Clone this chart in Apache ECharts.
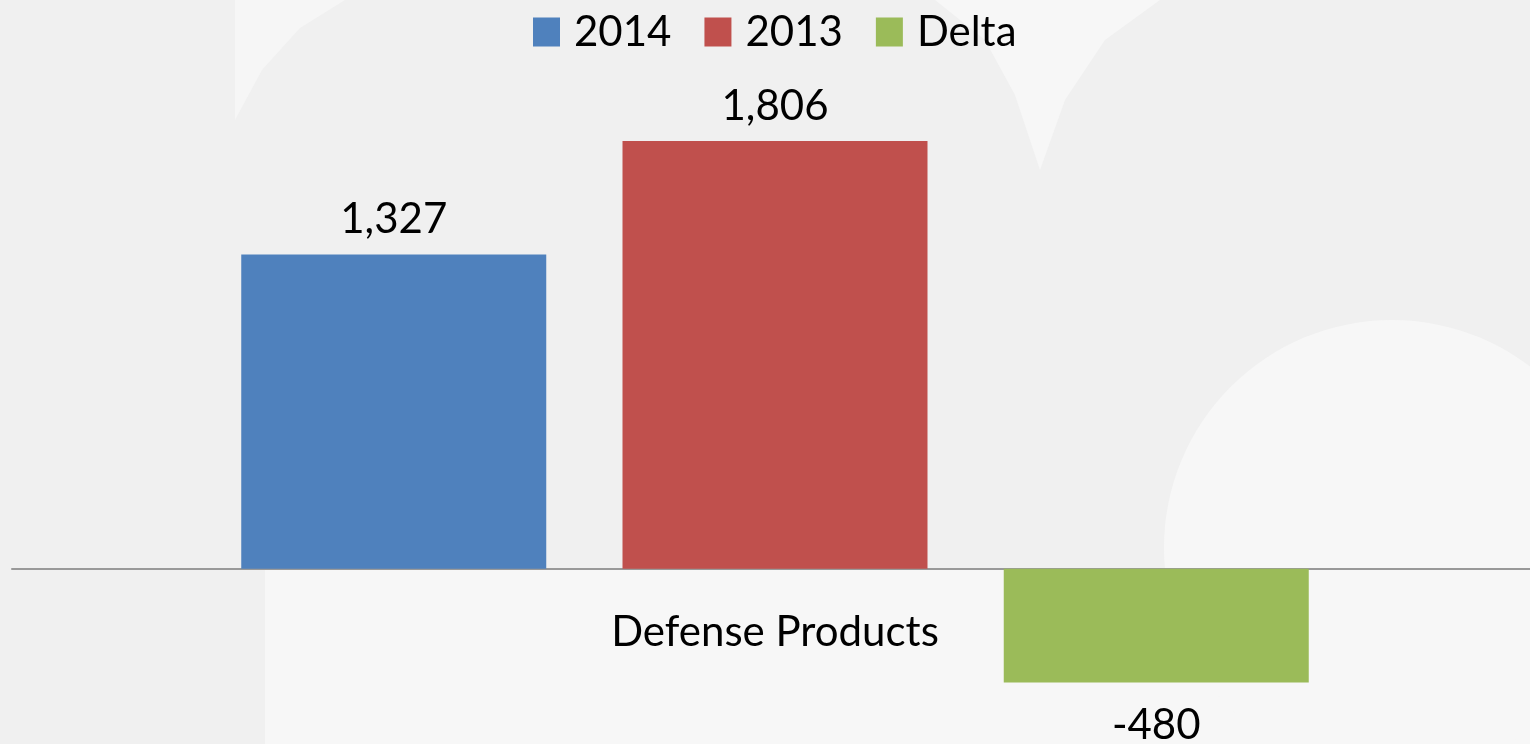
<!DOCTYPE html>
<html>
<head>
<meta charset="utf-8">
<script src="https://cdn.jsdelivr.net/npm/echarts@6/dist/echarts.min.js"></script>
<style>
html,body{margin:0;padding:0;background:#f0f0f0;}
#c{width:1530px;height:744px;}
</style>
</head>
<body>
<div id="c"></div>
<script>
const categories = ['Defense Products'];
const seriesNames = ['2014', '2013', 'Delta'];
const values2014 = [1327];
const values2013 = [1806];
const valuesDelta = [-480];

const colors = ['#4F81BD', '#C0504D', '#9BBB59'];
const fontFamily = 'Lato, "Open Sans", sans-serif';
const fmt = p => Math.round(p.value).toLocaleString('en-US');

const chart = echarts.init(document.getElementById('c'), null, {renderer: 'canvas'});
chart.setOption({
  backgroundColor: '#f0f0f0',
  animation: false,
  graphic: [
    {type: 'rect', z: -10, silent: true, shape: {x: 265, y: 570, width: 1265, height: 174}, style: {fill: '#f7f7f7'}},
    {type: 'rect', z: -10, silent: true, shape: {x: 1165, y: 540, width: 365, height: 204}, style: {fill: '#f7f7f7'}},
    {type: 'circle', z: -10, silent: true, shape: {cx: 1392, cy: 548, r: 228}, style: {fill: '#f7f7f7'}},
    {type: 'polygon', z: -10, silent: true, shape: {points: [[235, 0], [235, 120], [262, 70], [300, 28], [345, 0]]}, style: {fill: '#f6f6f6'}},
    {type: 'polygon', z: -10, silent: true, shape: {points: [[935, 0], [985, 40], [1015, 95], [1040, 170], [1065, 100], [1105, 40], [1160, 0]]}, style: {fill: '#f7f7f7'}}
  ],
  legend: {
    data: seriesNames,
    top: 6,
    left: 528,
    itemWidth: 27,
    itemHeight: 29,
    itemGap: 33,
    icon: 'rect',
    textStyle: {fontFamily, fontSize: 42, color: '#000', padding: [0, 0, 0, 9]}
  },
  grid: {left: 12, width: 1526, top: 95, height: 616, containLabel: false, outerBoundsMode: 'none'},
  xAxis: {
    type: 'category',
    data: categories,
    axisLine: {show: true, onZero: true, lineStyle: {color: '#999999', width: 2}},
    axisTick: {show: false},
    axisLabel: {fontFamily, fontSize: 42, color: '#000', margin: -100},
    splitLine: {show: false}
  },
  yAxis: {
    type: 'value',
    min: -600,
    max: 2000,
    show: false,
    splitLine: {show: false}
  },
  series: [
    {name: seriesNames[0], type: 'bar', data: values2014, barWidth: 305, barGap: '25%', barCategoryGap: '30%',
     itemStyle: {color: colors[0]},
     label: {show: true, position: 'top', distance: 14, formatter: fmt, fontFamily, fontSize: 42, color: '#000'}},
    {name: seriesNames[1], type: 'bar', data: values2013, barWidth: 305, barGap: '25%',
     itemStyle: {color: colors[1]},
     label: {show: true, position: 'top', distance: 14, formatter: fmt, fontFamily, fontSize: 42, color: '#000'}},
    {name: seriesNames[2], type: 'bar', data: valuesDelta, barWidth: 305, barGap: '25%',
     itemStyle: {color: colors[2]},
     label: {show: true, position: 'bottom', distance: 22, formatter: fmt, fontFamily, fontSize: 42, color: '#000'}}
  ]
});
</script>
</body>
</html>
